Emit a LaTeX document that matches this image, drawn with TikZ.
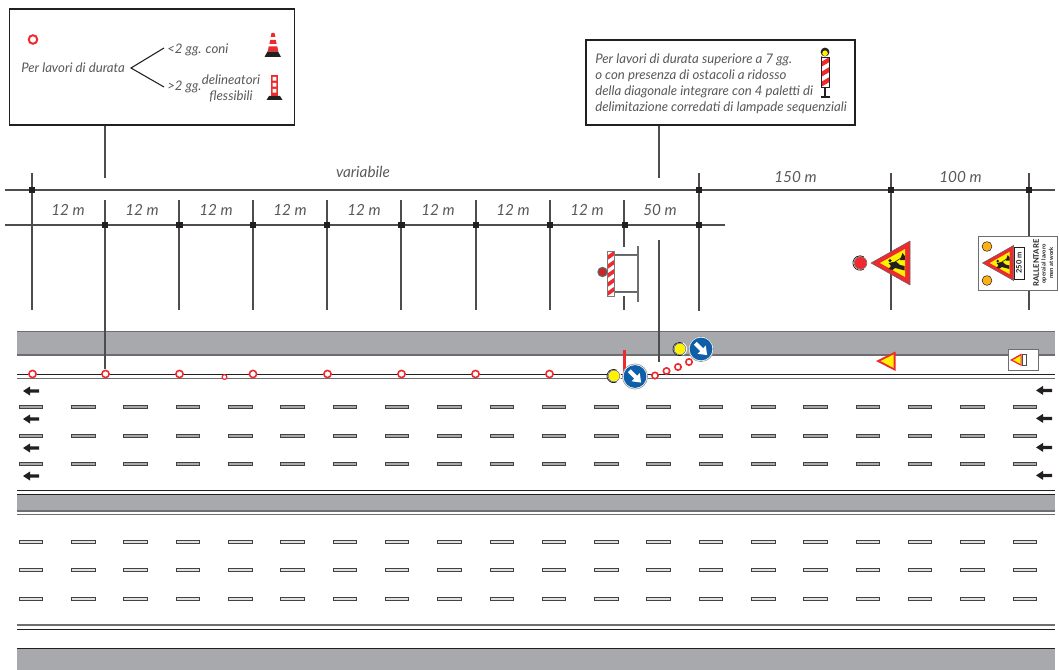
\documentclass[tikz,border=0pt]{standalone}
\usepackage{fontspec}
\setmainfont{Lato}
\definecolor{roadgray}{HTML}{A7A9AC}
\definecolor{edgegray}{HTML}{6D6E71}
\definecolor{ink}{HTML}{231F20}
\definecolor{txt}{HTML}{58595B}
\definecolor{sigred}{HTML}{EE2A2E}
\definecolor{sigyel}{HTML}{FFF200}
\definecolor{sigora}{HTML}{FBB016}
\definecolor{sigblue}{HTML}{0F5FA8}
\tikzset{
  dim/.style={draw=ink!80,line width=0.9pt},
  sq/.style={fill=ink,draw=none,minimum size=5.2pt,inner sep=0pt,rectangle},
  lab/.style={inner sep=0pt,text=txt,font=\itshape\fontsize{9.9pt}{11.3pt}\selectfont},
  dimlab/.style={inner sep=0pt,text=txt,font=\itshape\fontsize{11.5pt}{13pt}\selectfont},
  notebox/.style={draw=ink,line width=0.9pt,fill=white},
  band/.style={fill=roadgray,draw=none},
  cone/.style={draw=sigred,line width=1.2pt,fill=white,circle,inner sep=0pt},
  dashmark/.style={draw=ink!85,fill=roadgray,line width=0.6pt,minimum width=17.6pt,minimum height=2.4pt,inner sep=0pt,rectangle},
  dashmarkb/.style={draw=ink!85,fill=roadgray!35,line width=0.6pt,minimum width=17.6pt,minimum height=2.4pt,inner sep=0pt,rectangle},
  pics/leftarrow/.style={code={
    \fill[ink] (0,0) -- (7,-4.5) -- (7,-1.6) -- (16,-1.6) -- (16,1.6) -- (7,1.6) -- (7,4.5) -- cycle;}},
  pics/lamp/.style n args={2}{code={
    \fill[white] (0,0) circle (#1+1.6);
    \draw[ink,line width=0.6pt] (-0.4,0) ++(60:#1+1.2) arc (60:300:#1+1.2);
    \draw[edgegray,line width=0.5pt] (0,0) circle (#1+0.3);
    \fill[#2] (0,0) circle (#1);}},
  pics/bluesign/.style={code={
    \fill[white] (0,0) circle (12.6);
    \draw[edgegray!70,line width=0.5pt] (0,0) circle (12.6);
    \fill[sigblue] (0,0) circle (11.4);
    \fill[white,rotate=-45] (-8,-2) -- (1,-2) -- (1,-5.8) -- (8.6,0) -- (1,5.8) -- (1,2) -- (-8,2) -- cycle;}},
  pics/worktri/.style={code={
    \fill[sigred] (0,0) -- (39,-22) -- (39,22) -- cycle;
    \draw[ink!70,line width=0.4pt,line join=round] (0,0) -- (39,-22) -- (39,22) -- cycle;
    \fill[sigyel] (9,0) -- (34,-14) -- (34,14) -- cycle;
    \fill[ink] (19,-2.4) circle (1.8);
    \fill[ink] (17.5,0) -- (25,-1.5) -- (29,2) -- (33.5,3) -- (33.5,7.5) -- (28,6) -- (24,5) -- (21.5,7) -- (17.5,6) -- (20,3) -- cycle;
    \fill[ink] (29,-3) -- (31.5,-10) -- (33.8,-7) -- (33.8,-3) -- cycle;
    \draw[ink,line width=0.5pt] (24,-1) -- (30,-5);}},
  pics/redstripes/.style n args={5}{code={
    \begin{scope}
      \clip (#1,#2) rectangle (#3,#4);
      \fill[white] (#1,#2) rectangle (#3,#4);
      \foreach \k in {0,1,...,8}
        \fill[sigred] (#1,#2+\k*2*#5-#5) -- (#3,#2+\k*2*#5-2*#5) -- (#3,#2+\k*2*#5-#5) -- (#1,#2+\k*2*#5) -- cycle;
    \end{scope}
    \draw[ink!60,line width=0.5pt] (#1,#2) rectangle (#3,#4);}}
}
\begin{document}
\begin{tikzpicture}[x=0.75pt,y=-0.75pt]
\useasboundingbox (0,0) rectangle (1059,670);

% ---------- road ----------
\fill[band] (17,331) rectangle (1055,355);
\draw[edgegray,line width=0.5pt] (17,331) -- (1055,331);
\draw[edgegray,line width=1.1pt] (17,355) -- (1055,355);
\draw[ink,line width=0.7pt] (17,374.7) -- (1055,374.7);
\draw[edgegray,line width=0.7pt] (17,378.8) -- (1055,378.8);
\draw[ink,line width=0.6pt] (17,490.6) -- (1055,490.6);
\fill[band] (17,494) rectangle (1055,511);
\draw[ink,line width=0.7pt] (17,494) -- (1055,494);
\draw[edgegray,line width=1pt] (17,511) -- (1055,511);
\draw[edgegray,line width=0.7pt] (17,514.5) -- (1055,514.5);
\draw[edgegray,line width=0.8pt] (17,625) -- (1055,625);
\draw[ink,line width=0.6pt] (17,629) -- (1055,629);
\fill[band] (17,648) rectangle (1055,670);
\draw[ink,line width=0.7pt] (17,648) -- (1055,648);

\foreach \i in {0,...,19}{
  \pgfmathsetmacro{\dx}{31+52.3*\i}
  \node[dashmark]  (da\i) at (\dx,406.5) {};
  \node[dashmark]  (db\i) at (\dx,435.5) {};
  \node[dashmark]  (dc\i) at (\dx,464) {};
  \node[dashmarkb] (dd\i) at (\dx,541.5) {};
  \node[dashmarkb] (de\i) at (\dx,570) {};
  \node[dashmarkb] (df\i) at (\dx,599) {};
}
\foreach \ay in {391,419,448,476}{
  \pic at (23,\ay) {leftarrow};
  \pic at (1036,\ay-0.6) {leftarrow};
}

% ---------- dimension grid ----------
\foreach \n/\px/\t/\b in {a/32/173/310,c/179/200/310,d/253/200/310,e/327/200/310,f/401/200/310,g/476/200/310,h/550/200/310,k/699/173/311,l/891/173/310,m/1029/173/310}{
  \coordinate (\n t) at (\px,\t);
  \coordinate (\n b) at (\px,\b);
  \draw[dim] (\n t) -- (\n b);
}
\coordinate (bt) at (105,200); \coordinate (bb) at (105,369);
\draw[dim] (bt) -- (bb);
\coordinate (it) at (624,200); \coordinate (ib) at (624,247);
\coordinate (ic) at (624,296); \coordinate (id) at (624,310);
\draw[dim] (it) -- (ib); \draw[dim] (ic) -- (id);
\coordinate (jt) at (659,240); \coordinate (jb) at (659,362);
\draw[dim] (jt) -- (jb);
\coordinate (h1a) at (5,190); \coordinate (h1b) at (1055,190);
\coordinate (h2a) at (5,225); \coordinate (h2b) at (725,225);
\draw[dim] (h1a) -- (h1b);
\draw[dim] (h2a) -- (h2b);
\foreach \n/\px in {A/32,K/699,L/891,M/1029}
  \node[sq] (s\n) at (\px,190) {};
\foreach \n/\px in {B/105,C/179.5,D/253,E/327,F/401.5,G/476,H/550,I/625,J/699}
  \node[sq] (r\n) at (\px,225) {};

\node[dimlab] (lvar) at (363,172) {variabile};
\node[dimlab] (l150) at (795.5,177) {150 m};
\node[dimlab] (l100) at (960.5,177) {100 m};
\foreach \i/\px in {1/68,2/142,3/216,4/290,5/364,6/438,7/513,8/587}
  \node[dimlab] (twelve\i) at (\px,210) {12 m};
\node[dimlab] (l50) at (660,210) {50 m};

% ---------- note box left ----------
\node[notebox,minimum width=213.8pt,minimum height=87pt,inner sep=0pt,rectangle] (noteA) at (152,67) {};
\coordinate (noteAdrop) at (105,178);
\draw[dim] (noteA.south -| noteAdrop) -- (noteAdrop);
\node[cone,minimum size=6.4pt,line width=1.5pt] (legcone) at (33,39.5) {};
\node[lab,anchor=west] (perlav) at (21,68) {Per lavori di durata};
\coordinate (fork) at (131,68);
\coordinate (forka) at (164,48);
\coordinate (forkb) at (164,87);
\draw[ink,line width=0.8pt] (forka) -- (fork) -- (forkb);
\node[lab,anchor=west] (less) at (167,50) {<2 gg. coni};
\node[lab,anchor=west] (more) at (167,87) {>2 gg.};
\node[lab,align=center] (deli) at (231,88.5) {delineatori\\flessibili};
% cone
\fill[ink] (264.5,57) -- (267.5,51.5) -- (278,51.5) -- (281,57) -- cycle;
\fill[sigred] (271.5,33) -- (274.5,33) -- (275.3,37) -- (270.7,37) -- cycle;
\fill[sigred] (270.2,40) -- (275.8,40) -- (276.6,44) -- (269.4,44) -- cycle;
\fill[sigred] (268.7,46.5) -- (277.3,46.5) -- (278.3,51.5) -- (267.7,51.5) -- cycle;
% delineator
\fill[ink] (266.5,100) -- (269,96) -- (280,96) -- (282.5,100) -- cycle;
\fill[sigred] (271,75) rectangle (278,96);
\fill[white] (272.7,77) rectangle (276.3,80.6) (272.7,83) rectangle (276.3,86.6) (272.7,89) rectangle (276.3,92.6);

% ---------- note box right ----------
\node[notebox,minimum width=201.8pt,minimum height=63.8pt,inner sep=0pt,rectangle] (noteB) at (720.5,82.5) {};
\coordinate (noteBdrop) at (659,178);
\draw[dim] (noteB.south -| noteBdrop) -- (noteBdrop);
\node[lab,anchor=west] (b1) at (595,60) {Per lavori di durata superiore a 7 gg.};
\node[lab,anchor=west] (b2) at (595,76) {o con presenza di ostacoli a ridosso};
\node[lab,anchor=west] (b3) at (595,92) {della diagonale integrare con 4 paletti di};
\node[lab,anchor=west] (b4) at (595,108) {delimitazione corredati di lampade sequenziali};
\fill[ink] (825,52) circle (4.4);
\fill[sigyel] (825,53.2) circle (2.8);
\draw[ink,line width=0.9pt] (825,87) -- (825,97) (820.5,97) -- (830,97);
\pic {redstripes={821}{57}{829.5}{87}{5}};
\draw[ink,line width=0.7pt] (821,57) rectangle (829.5,87);

% ---------- barrier ----------
\draw[edgegray,line width=1.4pt] (614,255) -- (638,255) (614,292) -- (638,292);
\draw[ink!70,line width=0.5pt] (614,254.2) -- (638,254.2) (614,291.2) -- (638,291.2);
\coordinate (bara) at (638,246); \coordinate (barb) at (638,302);
\draw[edgegray,line width=1pt] (bara) -- (barb);
\pic {redstripes={607.5}{251}{614}{296}{4.5}};
\fill[ink!70] (602.5,272) circle (5.2);
\fill[sigred!85!black] (602.5,272) circle (3.8);

% ---------- cones along the road ----------
\foreach \i/\px in {1/32.5,2/105.5,3/179.5,4/253,5/327.5,6/401.5,7/475.5,8/549.5}
  \node[cone,minimum size=5.4pt] (cn\i) at (\px,374) {};
\node[cone,minimum size=3.6pt,line width=0.9pt] (cnS) at (224.5,377) {};
\foreach \i/\px/\py in {1/655/375.5,2/666.5/371,3/678/367,4/689/362}
  \node[cone,minimum size=4.8pt] (dg\i) at (\px,\py) {};

% ---------- diagonal signs ----------
\fill[sigred] (622.6,350) rectangle (626.4,376);
\pic at (614,376) {lamp={5.4}{sigyel}};
\pic at (635,376.5) {bluesign};
\pic at (680,349) {lamp={5.4}{sigyel}};
\pic at (701,349) {bluesign};

% ---------- advance signs ----------
\pic at (860.5,263) {lamp={6}{sigred}};
\pic at (871,263) {worktri};

\node[draw=edgegray,line width=1pt,fill=white,minimum width=59.5pt,minimum height=40.5pt,inner sep=0pt,rectangle] (rall) at (1018,263.5) {};
\fill[ink] (987,246.5) circle (5.2) (987,280.5) circle (5.2);
\fill[sigora] (987,246.5) circle (4.5) (987,280.5) circle (4.5);
\pic[scale=0.8] at (982.5,263) {worktri};
\node[draw=ink,line width=0.5pt,minimum width=7.5pt,minimum height=24pt,inner sep=0pt,rectangle] (d250) at (1019,263) {};
\node[rotate=90,inner sep=0pt,text=ink,font=\fontsize{5.6pt}{6pt}\selectfont\bfseries] (t250) at (d250) {250 m};
\node[rotate=90,inner sep=0pt,text=ink,font=\fontsize{5.7pt}{7pt}\selectfont\bfseries] (tr) at (1036,263) {RALLENTARE};
\node[rotate=90,inner sep=0pt,text=ink,font=\fontsize{4.3pt}{5pt}\selectfont\bfseries] (to) at (1044,264) {operai al lavoro};
\node[rotate=90,inner sep=0pt,text=ink,font=\fontsize{4.3pt}{5pt}\selectfont\bfseries] (tm) at (1051,263) {men at work};

% ---------- road triangles ----------
\fill[sigred] (876,361) -- (895.5,351.5) -- (895.5,371) -- cycle;
\fill[sigyel] (880.5,361) -- (893.7,354.5) -- (893.7,368) -- cycle;
\node[draw=edgegray,line width=0.9pt,fill=white,minimum width=23pt,minimum height=15.5pt,inner sep=0pt,rectangle] (tabl) at (1023.5,360) {};
\fill[sigred] (1010,360) -- (1021.5,353.5) -- (1021.5,366) -- cycle;
\fill[sigyel] (1013,360) -- (1020.5,355.8) -- (1020.5,364) -- cycle;
\draw[ink!80,fill=white,line width=0.5pt] (1022,354) rectangle (1026.5,365.5);
\end{tikzpicture}
\end{document}
